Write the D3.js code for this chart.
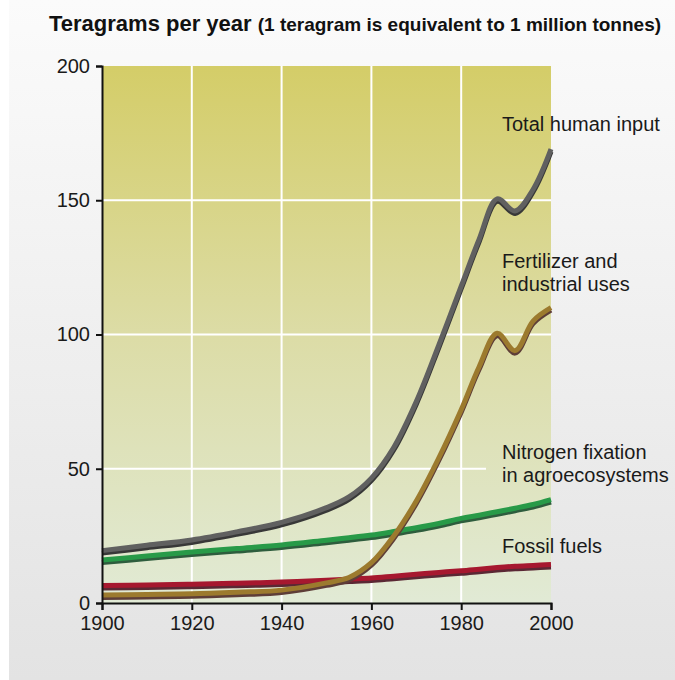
<!DOCTYPE html>
<html>
<head>
<meta charset="utf-8">
<script src="https://cdn.jsdelivr.net/npm/d3@7"></script>
<style>
  body { margin: 0; background: #fff; }
  #container { width: 675px; height: 680px; }
  text { font-family: "Liberation Sans", Arial, sans-serif; }
</style>
</head>
<body>
<div id="container"></div>
<script>

// data
var years = [1900, 1910, 1920, 1930, 1940, 1950, 1955, 1960, 1965, 1970, 1975, 1980, 1984, 1988, 1992, 1996, 2000];

var totalInput = [19.5, 21.5, 23.5, 26.5, 30, 35.5, 39.5, 46.5, 58, 75, 96, 118, 135.5, 150.5, 146, 154, 169];
var fertilizer = [3, 3.2, 3.4, 4, 4.8, 7.5, 9.5, 15, 25, 38, 54, 72, 88, 100.5, 94, 105, 110];
var fixation = [16, 17.5, 19, 20.3, 21.6, 23.4, 24.3, 25.3, 26.6, 28, 29.6, 31.5, 32.7, 34, 35.3, 36.7, 38.5];
var fossil = [6.5, 6.7, 7, 7.4, 7.8, 8.5, 8.9, 9.3, 10, 10.7, 11.4, 12, 12.6, 13.2, 13.7, 14, 14.3];

var seriesNames = ["Nitrogen fixation", "Fossil fuels", "Fertilizer", "Total human input"];
var seriesValues = [fixation, fossil, fertilizer, totalInput];
var seriesColor = ["#289a48", "#a6182f", "#9c7a2e", "#606060"];
var seriesShadow = ["#2e5d3d", "#5a2834", "#5e3e38", "#383838"];

var xTicks = [1900, 1920, 1940, 1960, 1980, 2000];
var yTicks = [0, 50, 100, 150, 200];

var labels = [
  { lines: ["Total human input"], y: 131 },
  { lines: ["Fertilizer and", "industrial uses"], y: 268 },
  { lines: ["Nitrogen fixation", "in agroecosystems"], y: 459, cut: true },
  { lines: ["Fossil fuels"], y: 553 }
];

// parameters
var width = 675,
    height = 680,
    plotLeft = 102,
    plotRight = 551,
    plotTop = 66,
    plotBottom = 603;

var svg = d3.select("#container")
    .append("svg")
    .attr("width", width)
    .attr("height", height);

var defs = svg.append("defs");

var panelGrad = defs.append("linearGradient")
    .attr("id", "panelGrad")
    .attr("x1", 0).attr("y1", 0).attr("x2", 0).attr("y2", 1);
panelGrad.append("stop").attr("offset", "0%").attr("stop-color", "#fbfbfb");
panelGrad.append("stop").attr("offset", "100%").attr("stop-color", "#e3e3e3");

var plotGrad = defs.append("linearGradient")
    .attr("id", "plotGrad")
    .attr("gradientUnits", "userSpaceOnUse")
    .attr("x1", 0).attr("y1", plotTop).attr("x2", 0).attr("y2", plotBottom);
plotGrad.append("stop").attr("offset", "0%").attr("stop-color", "#d4cd68");
plotGrad.append("stop").attr("offset", "50%").attr("stop-color", "#dcdca6");
plotGrad.append("stop").attr("offset", "100%").attr("stop-color", "#e1ead5");

svg.append("rect")
    .attr("x", 9).attr("y", 0)
    .attr("width", width - 9).attr("height", height)
    .attr("fill", "url(#panelGrad)");

// scales
var x = d3.scaleLinear().domain([1900, 2000]).range([plotLeft, plotRight]);
var y = d3.scaleLinear().domain([0, 200]).range([plotBottom, plotTop]);

svg.append("rect")
    .attr("x", x(1900)).attr("y", y(200))
    .attr("width", x(2000) - x(1900)).attr("height", y(0) - y(200))
    .attr("fill", "url(#plotGrad)");

// grid
var grid = svg.append("g");
grid.selectAll(".vgrid")
    .data(xTicks.slice(1, -1))
    .enter()
    .append("line")
    .attr("class", "vgrid")
    .attr("x1", function (d) { return x(d) })
    .attr("x2", function (d) { return x(d) })
    .attr("y1", y(200))
    .attr("y2", y(0))
    .attr("stroke", "#fff")
    .attr("stroke-width", 2);

grid.selectAll(".hgrid")
    .data(yTicks.slice(1, -1))
    .enter()
    .append("line")
    .attr("class", "hgrid")
    .attr("x1", x(1900))
    .attr("x2", x(2000))
    .attr("y1", function (d) { return y(d) })
    .attr("y2", function (d) { return y(d) })
    .attr("stroke", "#fff")
    .attr("stroke-width", 2);

// lines
var line = d3.line()
    .x(function (d, i) { return x(years[i]) })
    .y(function (d) { return y(d) })
    .curve(d3.curveCatmullRom.alpha(0.5));

var lines = svg.append("g");
seriesValues.forEach(function (vals, k) {
    lines.append("path")
        .attr("d", line(vals))
        .attr("transform", "translate(0,2.5)")
        .attr("fill", "none")
        .attr("stroke", seriesShadow[k])
        .attr("stroke-width", 5);
    lines.append("path")
        .attr("d", line(vals))
        .attr("fill", "none")
        .attr("stroke", seriesColor[k])
        .attr("stroke-width", 5);
});

// axes
var xAxis = svg.append("g")
    .attr("transform", "translate(0," + y(0) + ")")
    .call(d3.axisBottom(x).tickValues(xTicks).tickFormat(d3.format("d")).tickSize(7).tickPadding(6));

var yAxis = svg.append("g")
    .attr("transform", "translate(" + x(1900) + ",0)")
    .call(d3.axisLeft(y).tickValues(yTicks).tickSize(6).tickPadding(6));

[xAxis, yAxis].forEach(function (a) {
    a.select(".domain").attr("stroke", "#111").attr("stroke-width", 2);
    a.selectAll(".tick line").attr("stroke", "#111").attr("stroke-width", 2);
    a.selectAll(".tick text")
        .attr("fill", "#1a1a1a")
        .style("font-size", "20px")
        .style("font-family", "'Liberation Sans', Arial, sans-serif");
});

// labels
var labelG = svg.append("g");
labels.forEach(function (l) {
    if (l.cut) {
        labelG.append("rect")
            .attr("x", 486).attr("y", l.y - 16)
            .attr("width", x(2000) - 486).attr("height", 42)
            .attr("fill", "url(#plotGrad)");
    }
    var t = labelG.append("text")
        .attr("x", 502)
        .attr("y", l.y)
        .attr("fill", "#1a1a1a")
        .style("font-size", "20px");
    l.lines.forEach(function (s, i) {
        t.append("tspan").attr("x", 502).attr("dy", i ? 23 : 0).text(s);
    });
});

// title
var title = svg.append("text")
    .attr("x", 49)
    .attr("y", 31)
    .attr("fill", "#111")
    .style("font-weight", "bold");
title.append("tspan").style("font-size", "22px").text("Teragrams per year ");
title.append("tspan").style("font-size", "19px").text("(1 teragram is equivalent to 1 million tonnes)");

</script>
</body>
</html>
